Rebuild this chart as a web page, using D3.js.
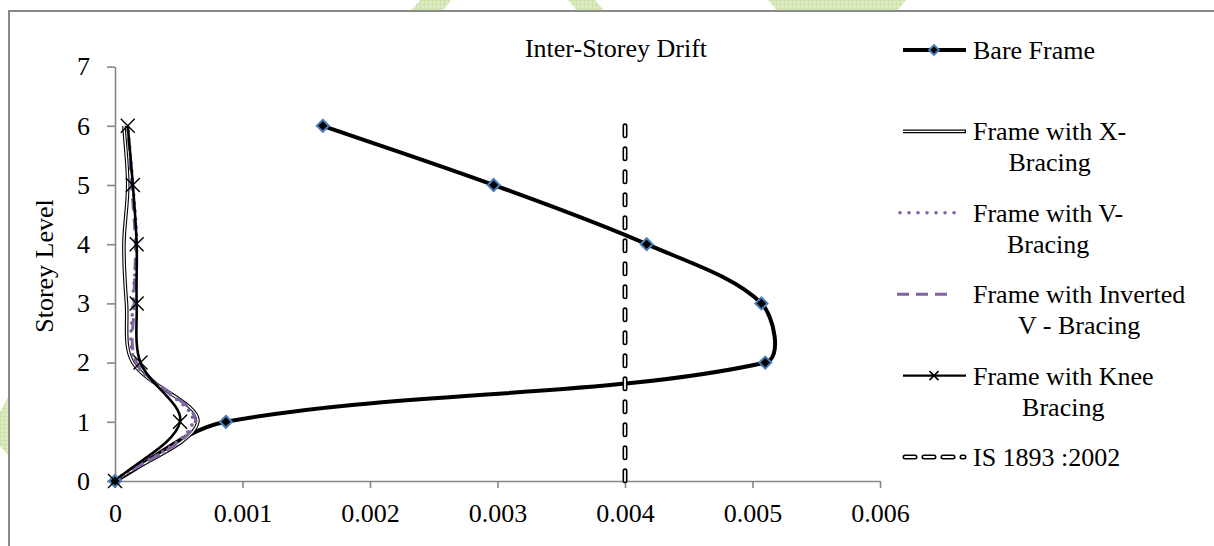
<!DOCTYPE html>
<html>
<head>
<meta charset="utf-8">
<script src="https://cdn.jsdelivr.net/npm/d3@7"></script>
<style>
  body { margin: 0; background: #fff; }
  svg { display: block; font-family: "Liberation Serif", "Times New Roman", serif; }
</style>
</head>
<body>
<div id="chart"></div>
<script>
// data
const levels = [0, 1, 2, 3, 4, 5, 6];
const bareFrame = [0, 0.00087, 0.0051, 0.00507, 0.00417, 0.00297, 0.00163];
const xBracing = [0, 0.00065, 0.00014, 0.00009, 0.00007, 0.0001, 0.00007];
const vBracing = [0, 0.00061, 0.00016, 0.00014, 0.00017, 0.00014, 0.0001];
const invVBracing = [0, 0.00063, 0.00017, 0.00015, 0.00016, 0.00013, 0.0001];
const kneeBracing = [0, 0.00051, 0.0002, 0.00017, 0.00017, 0.00014, 0.0001];
const isLimit = [0.004, 0.004, 0.004, 0.004, 0.004, 0.004, 0.004];

const xTicks = [0, 0.001, 0.002, 0.003, 0.004, 0.005, 0.006];
const yTicks = [0, 1, 2, 3, 4, 5, 6, 7];
const legendLabels = [
  ["Bare Frame"],
  ["Frame with X-", "Bracing"],
  ["Frame with V-", "Bracing"],
  ["Frame with Inverted", "V - Bracing"],
  ["Frame with Knee", "Bracing"],
  ["IS 1893 :2002"]
];

const W = 1214, H = 546;
const fontSize = 26;
const purple = "#8064A2";
const axisColor = "#868686";
const diamondStroke = "#4A7EBB";

let svg = d3.select("#chart").append("svg")
  .attr("width", W).attr("height", H);

// green watermark peeking out round the chart frame
let pat = svg.append("defs").append("pattern")
  .attr("id", "grid").attr("width", 4).attr("height", 4)
  .attr("patternUnits", "userSpaceOnUse");
pat.append("rect").attr("width", 4).attr("height", 4).attr("fill", "#dcebc2");
pat.append("path").attr("d", "M0,0.5H4M0.5,0V4").attr("stroke", "#c9dfa3").attr("stroke-width", 0.7);

const marks = [
  [[420, 0], [451, 0], [442, 12], [410, 12]],
  [[568, 0], [595, 0], [605, 12], [578, 12]],
  [[768, 0], [906, 0], [896, 12], [778, 12]],
  [[0, 412], [9, 395], [9, 456], [0, 446]]
];
svg.selectAll(".wm").data(marks).enter().append("polygon")
  .attr("points", d => d.map(p => p.join(",")).join(" "))
  .attr("fill", "url(#grid)");

svg.append("rect")
  .attr("x", 9).attr("y", 11).attr("width", W + 20).attr("height", H + 20)
  .attr("fill", "#fff").attr("stroke", "#898989").attr("stroke-width", 2);

// scales
let x = d3.scaleLinear().domain([0, 0.006]).range([115, 880]);
let y = d3.scaleLinear().domain([0, 7]).range([481, 66.6]);

let xAxis = svg.append("g")
  .attr("transform", "translate(0," + y(0) + ")")
  .call(d3.axisBottom(x).tickValues(xTicks).tickSize(7).tickSizeOuter(0).tickPadding(16)
    .tickFormat(d => d === 0 ? "0" : d3.format(".3f")(d)));

let yAxis = svg.append("g")
  .attr("transform", "translate(" + x(0) + ",0)")
  .call(d3.axisLeft(y).tickValues(yTicks).tickSize(8).tickSizeOuter(0).tickPadding(17)
    .tickFormat(d3.format("d")));

[xAxis, yAxis].forEach(function(a) {
  a.select(".domain").attr("stroke", axisColor).attr("stroke-width", 1.6);
  a.selectAll(".tick line").attr("stroke", axisColor).attr("stroke-width", 1.6);
  a.selectAll(".tick text").attr("fill", "#000").attr("font-size", fontSize)
    .attr("font-family", "Liberation Serif, Times New Roman, serif");
});

svg.append("text")
  .attr("x", 616).attr("y", 57)
  .attr("text-anchor", "middle").attr("font-size", fontSize)
  .text("Inter-Storey Drift");

svg.append("text")
  .attr("transform", "translate(53,266) rotate(-90)")
  .attr("text-anchor", "middle").attr("font-size", fontSize)
  .text("Storey Level");

// lines
let pts = vals => vals.map((v, i) => [v, levels[i]]);
let straight = d3.line().x(d => x(d[0])).y(d => y(d[1]));

// spreadsheet-style smoothing: tangent from neighbours, scaled by chord lengths
function smooth(data) {
  let p = data.map(d => [x(d[0]), y(d[1])]);
  let n = p.length;
  let dist = (a, b) => Math.hypot(b[0] - a[0], b[1] - a[1]);
  let tan = p.map((q, i) => {
    let a = p[Math.max(i - 1, 0)], b = p[Math.min(i + 1, n - 1)];
    return [b[0] - a[0], b[1] - a[1]];
  });
  let seg = d3.range(n - 1).map(i => dist(p[i], p[i + 1]));
  let path = d3.path();
  path.moveTo(p[0][0], p[0][1]);
  for (let i = 0; i < n - 1; i++) {
    let dPrev = i > 0 ? seg[i - 1] : 0;
    let dNext = i < n - 2 ? seg[i + 1] : 0;
    let k1 = seg[i] / (3 * (dPrev + seg[i]));
    let k2 = seg[i] / (3 * (seg[i] + dNext));
    path.bezierCurveTo(
      p[i][0] + tan[i][0] * k1, p[i][1] + tan[i][1] * k1,
      p[i + 1][0] - tan[i + 1][0] * k2, p[i + 1][1] - tan[i + 1][1] * k2,
      p[i + 1][0], p[i + 1][1]);
  }
  return path.toString();
}

let plot = svg.append("g");

function diamond(r) { return "M0," + (-r) + "L" + r + ",0L0," + r + "L" + (-r) + ",0Z"; }
function cross(r) { return "M" + (-r) + "," + (-r) + "L" + r + "," + r + "M" + r + "," + (-r) + "L" + (-r) + "," + r; }

// bare frame
plot.append("path").attr("d", smooth(pts(bareFrame)))
  .attr("fill", "none").attr("stroke", "#000").attr("stroke-width", 4);

// x-bracing, double line
plot.append("path").attr("d", smooth(pts(xBracing)))
  .attr("fill", "none").attr("stroke", "#000").attr("stroke-width", 3.6);
plot.append("path").attr("d", smooth(pts(xBracing)))
  .attr("fill", "none").attr("stroke", "#fff").attr("stroke-width", 1.4);

// v-bracing dotted
plot.append("path").attr("d", smooth(pts(vBracing)))
  .attr("fill", "none").attr("stroke", purple).attr("stroke-width", 3.6)
  .attr("stroke-linecap", "round").attr("stroke-dasharray", "0.01 8");

// inverted v dashed
plot.append("path").attr("d", smooth(pts(invVBracing)))
  .attr("fill", "none").attr("stroke", purple).attr("stroke-width", 3)
  .attr("stroke-dasharray", "12 8");

// knee bracing
plot.append("path").attr("d", smooth(pts(kneeBracing)))
  .attr("fill", "none").attr("stroke", "#000").attr("stroke-width", 2.6);

plot.selectAll(".bm").data(pts(bareFrame)).enter().append("path")
  .attr("transform", d => "translate(" + x(d[0]) + "," + y(d[1]) + ")")
  .attr("d", diamond(6)).attr("fill", "#000")
  .attr("stroke", diamondStroke).attr("stroke-width", 2);

plot.selectAll(".km").data(pts(kneeBracing)).enter().append("path")
  .attr("transform", d => "translate(" + x(d[0]) + "," + y(d[1]) + ")")
  .attr("d", cross(7)).attr("stroke", "#000").attr("stroke-width", 1.4);

// IS 1893 limit, hollow dashes
let isPath = straight(pts(isLimit).reverse());
plot.append("path").attr("d", isPath)
  .attr("fill", "none").attr("stroke", "#000").attr("stroke-width", 5)
  .attr("stroke-linecap", "round").attr("stroke-dasharray", "10 13");
plot.append("path").attr("d", isPath)
  .attr("fill", "none").attr("stroke", "#fff").attr("stroke-width", 1.8)
  .attr("stroke-linecap", "round").attr("stroke-dasharray", "10 13");

// legend
let lx0 = 903, lx1 = 966, lmid = 934, textX = 973;
let legend = svg.append("g");
legendLabels.forEach(function(lines, i) {
  let ly = 50 + i * 81.4;
  let g = legend.append("g");
  let seg = "M" + lx0 + "," + ly + "H" + lx1;
  if (i === 0) {
    g.append("path").attr("d", seg).attr("stroke", "#000").attr("stroke-width", 4);
    g.append("path").attr("transform", "translate(" + lmid + "," + ly + ")")
      .attr("d", diamond(5)).attr("fill", "#000")
      .attr("stroke", diamondStroke).attr("stroke-width", 1.8);
  } else if (i === 1) {
    g.append("path").attr("d", seg).attr("stroke", "#000").attr("stroke-width", 3.6);
    g.append("path").attr("d", "M" + lx0 + "," + ly + "H" + (lx1 - 1.2)).attr("stroke", "#fff").attr("stroke-width", 1.4);
  } else if (i === 2) {
    g.append("path").attr("d", "M" + (lx0 - 3) + "," + ly + "H" + (lx1 - 4)).attr("stroke", purple).attr("stroke-width", 3.6)
      .attr("stroke-linecap", "round").attr("stroke-dasharray", "0.01 9");
  } else if (i === 3) {
    g.append("path").attr("d", "M" + (lx0 - 6) + "," + ly + "H" + (lx1 - 12)).attr("stroke", purple).attr("stroke-width", 3)
      .attr("stroke-dasharray", "12 7");
  } else if (i === 4) {
    g.append("path").attr("d", seg).attr("stroke", "#000").attr("stroke-width", 2.4);
    g.append("path").attr("transform", "translate(" + lmid + "," + ly + ")")
      .attr("d", cross(4.5)).attr("stroke", "#000").attr("stroke-width", 1.5);
  } else {
    g.append("path").attr("d", "M" + (lx0 + 2) + "," + ly + "H" + (lx1 - 2)).attr("stroke", "#000").attr("stroke-width", 5)
      .attr("stroke-linecap", "round").attr("stroke-dasharray", "10 9");
    g.append("path").attr("d", "M" + (lx0 + 2) + "," + ly + "H" + (lx1 - 2)).attr("stroke", "#fff").attr("stroke-width", 1.8)
      .attr("stroke-linecap", "round").attr("stroke-dasharray", "10 9");
  }
  let t1 = g.append("text").attr("x", textX).attr("y", ly + 9)
    .attr("font-size", fontSize).text(lines[0]);
  if (lines.length > 1) {
    let w = t1.node().getComputedTextLength();
    g.append("text").attr("x", textX + w / 2).attr("y", ly + 40)
      .attr("text-anchor", "middle").attr("font-size", fontSize).text(lines[1]);
  }
});
</script>
</body>
</html>
